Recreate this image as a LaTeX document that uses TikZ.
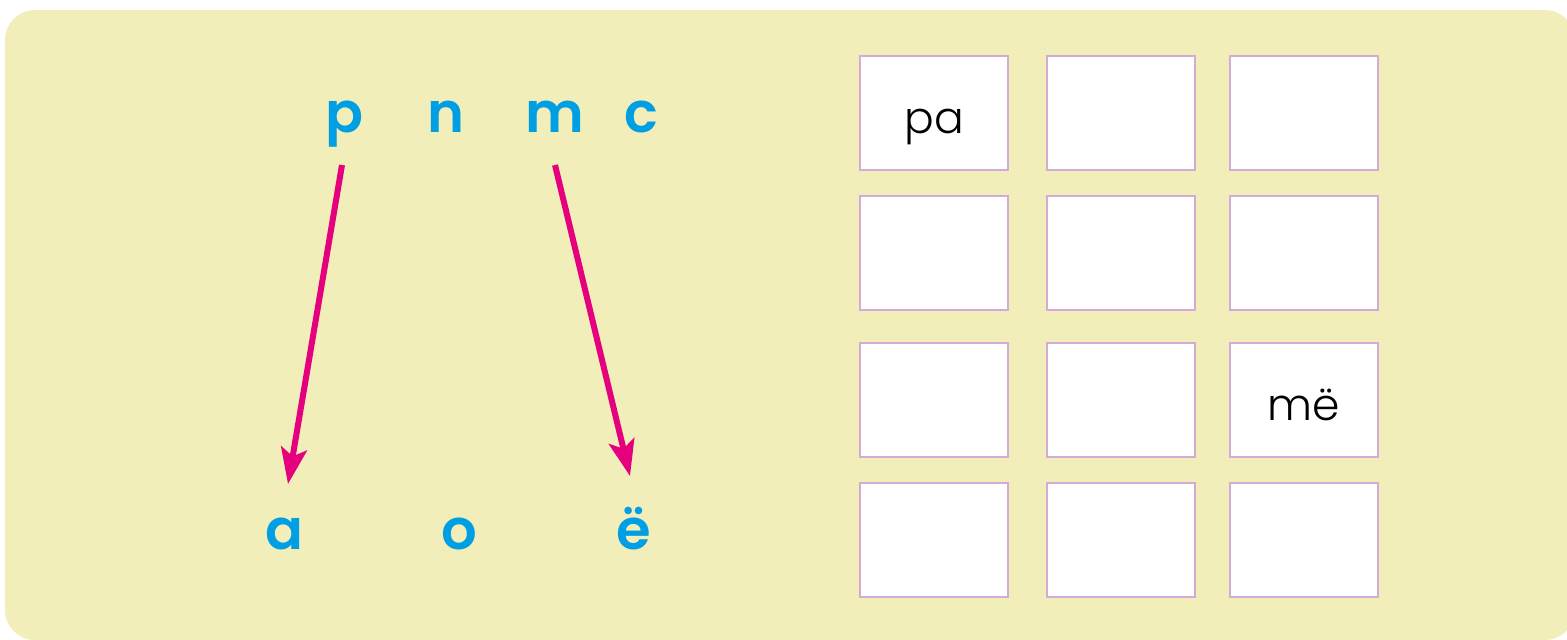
\documentclass[tikz,border=0pt]{standalone}
\usepackage{fontspec}
\setmainfont{Poppins}
\newfontfamily\letterfont{Poppins SemiBold}
\newfontfamily\cellfont{Poppins Light}
\usetikzlibrary{arrows.meta,positioning}
\definecolor{sand}{HTML}{F2EEBA}
\definecolor{sky}{HTML}{009FE3}
\definecolor{rose}{HTML}{E5007E}
\definecolor{lilac}{HTML}{D4AAD6}
\tikzset{
  letter/.style={font=\fontsize{28}{28}\selectfont\letterfont,text=sky,inner sep=0pt,anchor=base},
  cell/.style={draw=lilac,line width=1pt,fill=white,minimum width=74pt,minimum height=57pt,inner sep=0pt,text height=20pt,text depth=0pt,font=\fontsize{22}{22}\selectfont\cellfont},
  link/.style={-{Stealth[length=18pt,width=13pt,inset=4pt]},line width=3pt,draw=rose}
}

\begin{document}
\begin{tikzpicture}[x=0.5pt,y=-0.5pt]
  \useasboundingbox (0,0) rectangle (1567,639);
  \fill[sand,rounded corners=15pt] (5,10) rectangle (1575,640);

  % consonants and vowels
  \node[letter] (p) at (344,132) {p};
  \node[letter] (n) at (446,132) {n};
  \node[letter] (m) at (555,132) {m};
  \node[letter] (c) at (641,132) {c};
  \node[letter] (a) at (284,549) {a};
  \node[letter] (o) at (459,549) {o};
  \node[letter] (e) at (634,549) {ë};

  \coordinate (ptail) at (342,165);
  \coordinate (ahead) at (288,484);
  \coordinate (mtail) at (555,165);
  \coordinate (ehead) at (630,476);
  \draw[link] (ptail)--(ahead);
  \draw[link] (mtail)--(ehead);

  % syllable grid
  \node[cell] (r1c1) at (934,113) {pa};
  \node[cell] (r1c2) at (1120.5,113) {};
  \node[cell] (r1c3) at (1303.5,113) {};
  \node[cell] (r2c1) at (934,253) {};
  \node[cell] (r2c2) at (1120.5,253) {};
  \node[cell] (r2c3) at (1303.5,253) {};
  \node[cell] (r3c1) at (934,400) {};
  \node[cell] (r3c2) at (1120.5,400) {};
  \node[cell] (r3c3) at (1303.5,400) {më};
  \node[cell] (r4c1) at (934,540) {};
  \node[cell] (r4c2) at (1120.5,540) {};
  \node[cell] (r4c3) at (1303.5,540) {};
\end{tikzpicture}
\end{document}
